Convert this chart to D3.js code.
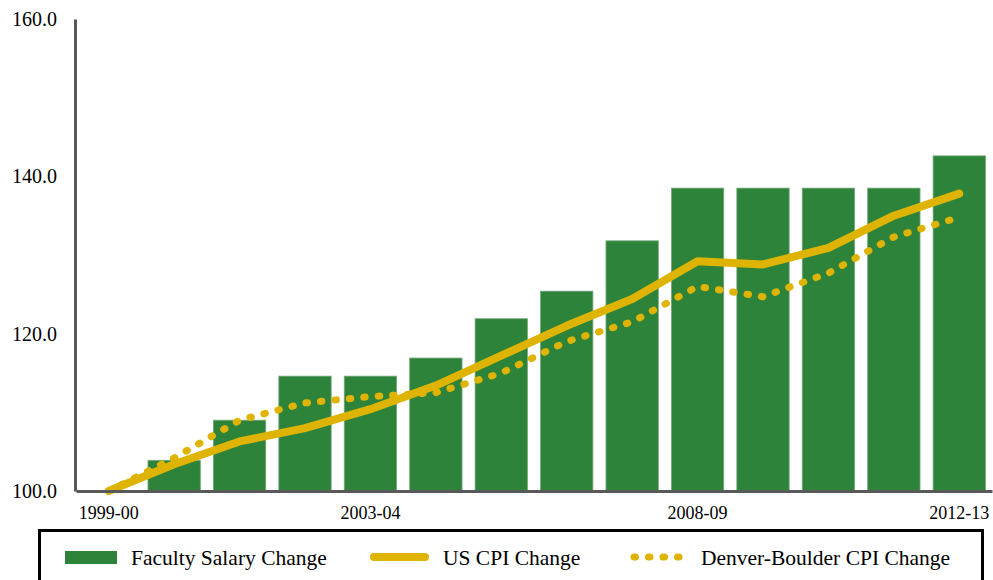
<!DOCTYPE html>
<html>
<head>
<meta charset="utf-8">
<script src="https://cdn.jsdelivr.net/npm/d3@7"></script>
<style>
    body { margin: 0; background: #fff; }
    svg { display: block; font-family: "Liberation Serif", "Times New Roman", serif; }
</style>
</head>
<body>
<div id="chart"></div>
<script>
'use strict';

const years = ['1999-00', '2000-01', '2001-02', '2002-03', '2003-04', '2004-05', '2005-06',
    '2006-07', '2007-08', '2008-09', '2009-10', '2010-11', '2011-12', '2012-13'];
const xTickLabels = ['1999-00', '2003-04', '2008-09', '2012-13'];
const yTickValues = [100, 120, 140, 160];

// faculty salary index (no bar for the base year)
const salary = [null, 103.9, 109.0, 114.6, 114.6, 116.9, 121.9, 125.4, 131.8, 138.5, 138.5, 138.5, 138.5, 142.6];
const usCpi = [100.0, 103.4, 106.3, 108.0, 110.4, 113.4, 117.2, 121.0, 124.4, 129.2, 128.8, 130.9, 135.0, 137.8];
const denverCpi = [100.0, 104.2, 109.0, 111.2, 112.0, 112.5, 115.0, 119.0, 121.5, 126.0, 124.7, 127.7, 132.3, 134.8];

const width = 993, height = 580;
const green = '#2e833b', gold = '#deb400', axisGray = '#595959';

const svg = d3.select('#chart').append('svg')
    .attr('width', width)
    .attr('height', height);

const x = d3.scaleBand()
    .domain(years)
    .range([76, 992])
    .paddingInner(0.2)
    .paddingOuter(0.1);

const y = d3.scaleLinear()
    .domain([100, 160])
    .range([491, 19]);

const cx = function (d, i) { return x(years[i]) + x.bandwidth() / 2; };

// bars
const barData = years.map(function (yr, i) { return {year: yr, value: salary[i]}; })
    .filter(function (d) { return d.value !== null; });

svg.append('g').selectAll('rect')
    .data(barData)
    .enter()
    .append('rect')
    .attr('x', function (d) { return x(d.year); })
    .attr('width', x.bandwidth())
    .attr('y', function (d) { return y(d.value); })
    .attr('height', function (d) { return y(100) - y(d.value); })
    .attr('fill', green)
    .attr('stroke', '#74a878')
    .attr('stroke-width', 0.8);

const line = d3.line()
    .x(cx)
    .y(function (d) { return y(d); });

svg.append('path')
    .datum(usCpi)
    .attr('d', line)
    .attr('fill', 'none')
    .attr('stroke', gold)
    .attr('stroke-width', 8)
    .attr('stroke-linecap', 'round')
    .attr('stroke-linejoin', 'round');

svg.append('path')
    .datum(denverCpi)
    .attr('d', line)
    .attr('fill', 'none')
    .attr('stroke', gold)
    .attr('stroke-width', 7)
    .attr('stroke-linecap', 'round')
    .attr('stroke-dasharray', '1.5 13');

// axes
const yAxis = svg.append('g')
    .attr('transform', 'translate(75,0)')
    .call(d3.axisLeft(y).tickValues(yTickValues).tickFormat(d3.format('.1f'))
        .tickSize(0).tickPadding(18));
yAxis.select('.domain').attr('stroke', axisGray).attr('stroke-width', 3);
yAxis.selectAll('text').attr('font-size', 20).attr('fill', '#000')
    .attr('font-family', '"Liberation Serif", serif');

const xAxis = svg.append('g')
    .attr('transform', 'translate(0,491)')
    .call(d3.axisBottom(x).tickValues(xTickLabels).tickSize(0).tickPadding(15));
xAxis.select('.domain').attr('stroke', axisGray).attr('stroke-width', 3);
xAxis.selectAll('text').attr('font-size', 18).attr('fill', '#000')
    .attr('font-family', '"Liberation Serif", serif');

// legend
const legend = svg.append('g');
legend.append('rect')
    .attr('x', 39.5).attr('y', 530.5)
    .attr('width', 943).attr('height', 70)
    .attr('fill', 'none').attr('stroke', '#000').attr('stroke-width', 3);

legend.append('rect')
    .attr('x', 65).attr('y', 551).attr('width', 52).attr('height', 13)
    .attr('fill', green);
legend.append('text').attr('x', 131).attr('y', 565).text('Faculty Salary Change');

legend.append('line')
    .attr('x1', 374).attr('x2', 425).attr('y1', 557).attr('y2', 557)
    .attr('stroke', gold).attr('stroke-width', 8).attr('stroke-linecap', 'round');
legend.append('text').attr('x', 443).attr('y', 565).text('US CPI Change');

legend.append('line')
    .attr('x1', 634).attr('x2', 680).attr('y1', 557).attr('y2', 557)
    .attr('stroke', gold).attr('stroke-width', 7).attr('stroke-linecap', 'round')
    .attr('stroke-dasharray', '1.5 13');
legend.append('text').attr('x', 701).attr('y', 565).text('Denver-Boulder CPI Change');

legend.selectAll('text').attr('font-size', 21.5).attr('fill', '#000');
</script>
</body>
</html>
